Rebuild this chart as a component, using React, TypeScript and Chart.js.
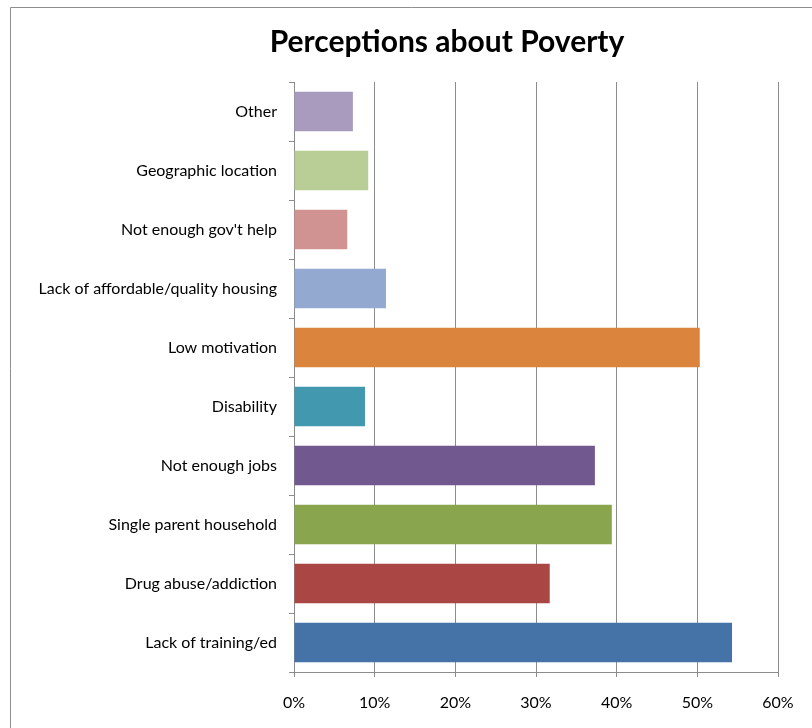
import React, { useEffect, useRef } from "react";
import { Chart, registerables } from "chart.js";

Chart.register(...registerables);

const categories = [
  "Other",
  "Geographic location",
  "Not enough gov't help",
  "Lack of affordable/quality housing",
  "Low motivation",
  "Disability",
  "Not enough jobs",
  "Single parent household",
  "Drug abuse/addiction",
  "Lack of training/ed",
];

const values = [7.3, 9.2, 6.6, 11.4, 50.3, 8.8, 37.3, 39.4, 31.7, 54.3];

const barColors = [
  "#A99BBD",
  "#B9CD96",
  "#D19392",
  "#93A9CF",
  "#DB843D",
  "#4198AF",
  "#71588F",
  "#89A54E",
  "#AA4643",
  "#4572A7",
];

const xTicks = [0, 10, 20, 30, 40, 50, 60];

const titleText = "Perceptions about Poverty";

const FONT = "Lato, 'Open Sans', sans-serif";

const framePlugin = {
  id: "frame",
  beforeDraw(chart: any) {
    const ctx = chart.ctx;
    ctx.save();
    ctx.strokeStyle = "#8e8e8e";
    ctx.lineWidth = 1;
    ctx.beginPath();
    ctx.moveTo(10.5, chart.height + 5);
    ctx.lineTo(10.5, 7.5);
    ctx.lineTo(chart.width + 5, 7.5);
    ctx.stroke();
    ctx.restore();
  },
  afterDraw(chart: any) {
    const ctx = chart.ctx;
    ctx.save();
    ctx.fillStyle = "#000";
    ctx.font = "bold 30px " + FONT;
    ctx.textAlign = "center";
    ctx.textBaseline = "middle";
    ctx.fillText(titleText, 447, 42);
    ctx.restore();
  },
};

export default function App() {
  const ref = useRef<HTMLCanvasElement | null>(null);

  useEffect(() => {
    if (!ref.current) return;
    const chart = new Chart(ref.current, {
      type: "bar",
      data: {
        labels: categories,
        datasets: [
          {
            data: values,
            backgroundColor: barColors,
            borderWidth: 0,
            barPercentage: 0.667,
            categoryPercentage: 1,
          },
        ],
      },
      options: {
        indexAxis: "y",
        animation: false,
        responsive: false,
        maintainAspectRatio: false,
        layout: { padding: { left: 0, right: 34, top: 82, bottom: 0 } },
        plugins: {
          legend: { display: false },
          tooltip: { enabled: false },
          title: { display: false },
        },
        scales: {
          x: {
            type: "linear",
            min: 0,
            max: 60,
            afterBuildTicks(scale: any) {
              scale.ticks = xTicks.map((v) => ({ value: v }));
            },
            afterFit(scale: any) {
              scale.height = 56;
            },
            grid: {
              display: true,
              color: "#8c8c8c",
              lineWidth: 1,
              drawTicks: true,
              tickLength: 5,
              tickColor: "#8c8c8c",
            },
            border: { display: true, color: "#8c8c8c", width: 1 },
            ticks: {
              color: "#000",
              font: { family: FONT, size: 16 },
              padding: 16,
              callback: (v: any) => v + "%",
            },
          },
          y: {
            type: "category",
            offset: true,
            afterFit(scale: any) {
              scale.width = 294;
            },
            grid: {
              display: true,
              offset: true,
              drawOnChartArea: false,
              drawTicks: true,
              tickLength: 5,
              tickColor: "#8c8c8c",
              color: "#8c8c8c",
            },
            border: { display: true, color: "#8c8c8c", width: 1 },
            ticks: {
              color: "#000",
              font: { family: FONT, size: 16 },
              padding: 12,
              autoSkip: false,
            },
          },
        },
      },
      plugins: [framePlugin],
    } as any);
    return () => chart.destroy();
  }, []);

  return (
    <div style={{ position: "absolute", left: 0, top: 0, width: 812, height: 728 }}>
      <canvas ref={ref} width={812} height={728} style={{ width: 812, height: 728 }} />
    </div>
  );
}
